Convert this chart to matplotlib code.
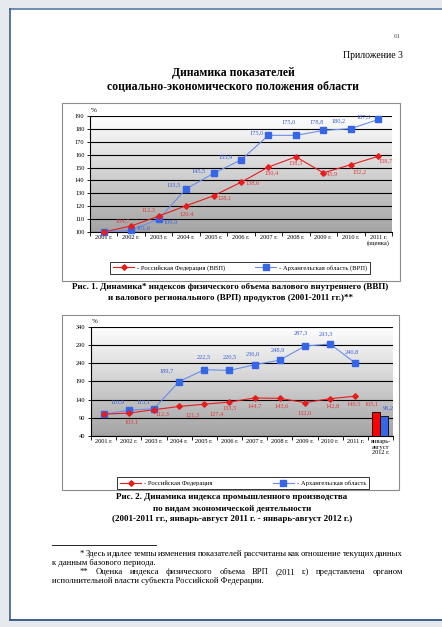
# Динамика показателей социально-экономического положения области (стр. 61)
import numpy as np
import matplotlib.pyplot as plt
from matplotlib.patches import Rectangle
from matplotlib.lines import Line2D
from matplotlib.colors import LinearSegmentedColormap

plt.rcParams['font.family'] = ['Liberation Serif', 'DejaVu Serif']

# данные рис. 1
years1 = ['2001 г.', '2002 г.', '2003 г.', '2004 г.', '2005 г.', '2006 г.',
          '2007 г.', '2008 г.', '2009 г.', '2010 г.', '2011 г.\n(оценка)']
rf_vvp = [100, 104.7, 112.3, 120.4, 128.1, 138.6, 150.4, 158.3, 145.9, 152.2, 158.7]
arh_vrp = [100, 101.6, 109.9, 133.5, 145.5, 155.9, 175.0, 175.0, 178.8, 180.2, 187.3]

# данные рис. 2
years2 = ['2001 г.', '2002 г.', '2003 г.', '2004 г.', '2005 г.', '2006 г.',
          '2007 г.', '2008 г.', '2009 г.', '2010 г.', '2011 г.', 'январь-\nавгуст\n2012 г.']
rf_prom = [100, 103.1, 112.3, 121.3, 127.4, 133.5, 144.7, 143.6, 132.0, 142.8, 149.5]
arh_prom = [100, 110.9, 115.1, 189.7, 222.5, 220.5, 236.0, 248.9, 287.3, 293.3, 240.8]
rf_2012 = 105.1
arh_2012 = 96.2

W, H = 442, 627
RED = '#e81c1c'
BLUE = '#3566e8'
BLUE_LINE = '#6a8eec'
RED_TXT = '#e03a3a'
BLUE_TXT = '#3b5fd6'

fig = plt.figure(figsize=(W / 100, H / 100), dpi=100)
fig.patch.set_facecolor('#e6e9ee')


def fx(px):
    return px / W


def fy(py):
    return 1 - py / H


def frame(x0, y0, x1, y1, **kw):
    fig.add_artist(Rectangle((fx(x0), fy(y1)), fx(x1) - fx(x0), fy(y0) - fy(y1),
                             transform=fig.transFigure, **kw))


def hline(x0, x1, y, **kw):
    fig.add_artist(Line2D([fx(x0), fx(x1)], [fy(y), fy(y)], transform=fig.transFigure, **kw))


def fmt(v):
    return f'{v:.1f}'.replace('.', ',')


# страница (правый край уходит за кадр)
frame(10, 9, W + 5, 620, facecolor='white', edgecolor='none', zorder=-5)
hline(10, W, 9, color='#5a7aa6', lw=1.2)
hline(10, W, 620, color='#3d5f8f', lw=1.4)
fig.add_artist(Line2D([fx(10), fx(10)], [fy(9), fy(620)], color='#3d5f8f', lw=1.2,
                      transform=fig.transFigure))
frame(62, 103, 400, 281, facecolor='none', edgecolor='#8c8c8c', lw=0.8)
frame(62, 315, 399, 490, facecolor='none', edgecolor='#8c8c8c', lw=0.8)

fig.text(fx(397), fy(37), '61', size=5, ha='center', va='center', color='#555555')
fig.text(fx(403), fy(55), 'Приложение 3', size=7, ha='right', va='center')
fig.text(fx(233), fy(73), 'Динамика показателей', size=8.5, weight='bold',
         ha='center', va='center')
fig.text(fx(233), fy(87), 'социально-экономического положения области', size=8.5,
         weight='bold', ha='center', va='center')

cmap = LinearSegmentedColormap.from_list('bg', ['#a4a4a4', '#ffffff'])


def setup(ax, labels, ymin, ymax, step):
    n = len(labels)
    ax.set_xlim(-0.5, n - 0.5)
    ax.set_ylim(ymin, ymax)
    grad = np.linspace(0, 1, 256).reshape(-1, 1)
    ax.imshow(grad, cmap=cmap, origin='lower', aspect='auto',
              extent=[-0.5, n - 0.5, ymin, ymax], zorder=0)
    ax.set_yticks(np.arange(ymin, ymax + 1, step))
    ax.grid(axis='y', color='black', lw=0.8, zorder=1)
    ax.set_axisbelow(False)
    for s in ['top', 'right']:
        ax.spines[s].set_visible(False)
    ax.spines['left'].set_linewidth(0.8)
    ax.spines['bottom'].set_linewidth(0.8)
    ax.set_xticks(np.arange(-0.5, n, 1))
    ax.set_xticklabels([])
    ax.set_xticks(np.arange(n), minor=True)
    ax.set_xticklabels(labels, minor=True, fontsize=4.6, va='top', linespacing=1.05)
    ax.tick_params(axis='x', which='major', length=3, width=0.6)
    ax.tick_params(axis='x', which='minor', length=0, pad=2.5)
    ax.tick_params(axis='y', labelsize=4.6, length=2, width=0.6, pad=2)
    ax.annotate('%', (0, 1), xycoords='axes fraction', xytext=(2.5, 4),
                textcoords='offset points', fontsize=5, ha='center', va='center')


def add_labels(ax, x, vals, offs, color):
    for xi, v, o in zip(x, vals, offs):
        if o is None:
            continue
        ax.annotate(fmt(v), (xi, v), xytext=(o[0] * 0.72, o[1] * 0.72),
                    textcoords='offset points', fontsize=4.6, color=color,
                    ha='center', va='center', zorder=6)


# ---- Рис. 1
ax1 = fig.add_axes([fx(90), fy(232), fx(392) - fx(90), fy(116) - fy(232)])
setup(ax1, years1, 100, 190, 10)
x1 = np.arange(len(rf_vvp))
ax1.plot(x1, arh_vrp, color=BLUE_LINE, lw=0.8, zorder=3, clip_on=False)
ax1.plot(x1, arh_vrp, 's', color=BLUE, ms=4.3, zorder=4, clip_on=False)
ax1.plot(x1, rf_vvp, color=RED, lw=0.8, zorder=3, clip_on=False)
ax1.plot(x1, rf_vvp, 'D', color=RED, ms=2.8, zorder=4, clip_on=False)

off1_rf = [None, (-9, 5), (-10, 6), (1, -8), (11, -2), (12, -1), (3, -6), (0, -6),
           (7, -1), (9, -7), (7, -5)]
off1_ar = [None, (12, 2), (12, -3), (-13, 4), (-15, 2), (-15, 3), (-12, 2), (-7, 13),
           (-7, 9), (-12, 8), (-15, 3)]
add_labels(ax1, x1, rf_vvp, off1_rf, RED_TXT)
add_labels(ax1, x1, arh_vrp, off1_ar, BLUE_TXT)

h_rf = Line2D([], [], color=RED, lw=0.8, marker='D', ms=2.8)
h_ar = Line2D([], [], color=BLUE_LINE, lw=0.8, marker='s', ms=4.3, mfc=BLUE, mec=BLUE)
leg1 = fig.legend([h_rf, h_ar], ['- Российская Федерация (ВВП)', '- Архангельская область (ВРП)'],
                  loc='center', bbox_to_anchor=(fx(240), fy(268)), ncol=2, fontsize=4.8,
                  frameon=True, fancybox=False, edgecolor='black', handlelength=3.2,
                  columnspacing=4.5, borderpad=0.5, handletextpad=0.4)
leg1.get_frame().set_linewidth(0.7)

fig.text(fx(230), fy(287), 'Рис. 1. Динамика* индексов физического объема валового внутреннего (ВВП)',
         size=6.5, weight='bold', ha='center', va='center')
fig.text(fx(230), fy(298), 'и валового регионального (ВРП) продуктов (2001-2011 гг.)**',
         size=6.5, weight='bold', ha='center', va='center')

# ---- Рис. 2
ax2 = fig.add_axes([fx(91), fy(436), fx(393) - fx(91), fy(327) - fy(436)])
setup(ax2, years2, 40, 340, 50)
x2 = np.arange(len(rf_prom))
ax2.plot(x2, arh_prom, color=BLUE_LINE, lw=0.8, zorder=3)
ax2.plot(x2, arh_prom, 's', color=BLUE, ms=4.3, zorder=4)
ax2.plot(x2, rf_prom, color=RED, lw=0.8, zorder=3)
ax2.plot(x2, rf_prom, 'D', color=RED, ms=2.8, zorder=4)
xb = len(years2) - 1
ax2.bar([xb - 0.16], [rf_2012], width=0.32, color='#ff0000', edgecolor='black', lw=0.6, zorder=3)
ax2.bar([xb + 0.16], [arh_2012], width=0.32, color=BLUE, edgecolor='black', lw=0.6, zorder=3)

off2_rf = [None, (3, -9), (9, -4), (13, -8), (12, -10), (0, -6), (0, -8), (2, -8),
           (0, -10), (3, -7), (-2, -8)]
off2_ar = [None, (-11, 8), (-10, 7), (-12, 11), (0, 13), (0, 14), (-2, 11), (-2, 10),
           (-4, 13), (-4, 10), (-3, 11)]
add_labels(ax2, x2, rf_prom, off2_rf, RED_TXT)
add_labels(ax2, x2, arh_prom, off2_ar, BLUE_TXT)
add_labels(ax2, [xb - 0.16], [rf_2012], [(-5, 8)], RED_TXT)
add_labels(ax2, [xb + 0.16], [arh_2012], [(4, 8)], BLUE_TXT)

leg2 = fig.legend([h_rf, h_ar], ['- Российская Федерация', '- Архангельская область'],
                  loc='center', bbox_to_anchor=(fx(243), fy(483)), ncol=2, fontsize=4.8,
                  frameon=True, fancybox=False, edgecolor='black', handlelength=3.2,
                  columnspacing=9, borderpad=0.5, handletextpad=0.4)
leg2.get_frame().set_linewidth(0.7)

fig.text(fx(232), fy(497), 'Рис. 2. Динамика индекса промышленного производства',
         size=6.5, weight='bold', ha='center', va='center')
fig.text(fx(232), fy(508), 'по видам экономической деятельности',
         size=6.5, weight='bold', ha='center', va='center')
fig.text(fx(232), fy(519), '(2001-2011 гг., январь-август 2011 г. - январь-август 2012 г.)',
         size=6.5, weight='bold', ha='center', va='center')

# ---- сноски
hline(52, 156, 545, color='black', lw=0.6)

FN = 6.2


def justify(line, x0, x1, y, size=FN):
    words = line.split()
    texts = [fig.text(0, fy(y), w, size=size, va='center') for w in words]
    r = fig.canvas.get_renderer()
    widths = [t.get_window_extent(r).width for t in texts]
    gap = (x1 - x0 - sum(widths)) / (len(words) - 1)
    x = x0
    for t, w in zip(texts, widths):
        t.set_x(fx(x))
        x += w + gap


justify('* Здесь и далее темпы изменения показателей рассчитаны как отношение текущих данных',
        80, 403, 554)
fig.text(fx(52), fy(563), 'к данным базового периода.', size=FN, va='center')
justify('** Оценка индекса физического объема ВРП (2011 г.) представлена органом',
        80, 403, 572)
fig.text(fx(52), fy(581), 'исполнительной власти субъекта Российской Федерации.', size=FN,
         va='center')

fig.savefig('out.png', dpi=100, facecolor=fig.get_facecolor())
